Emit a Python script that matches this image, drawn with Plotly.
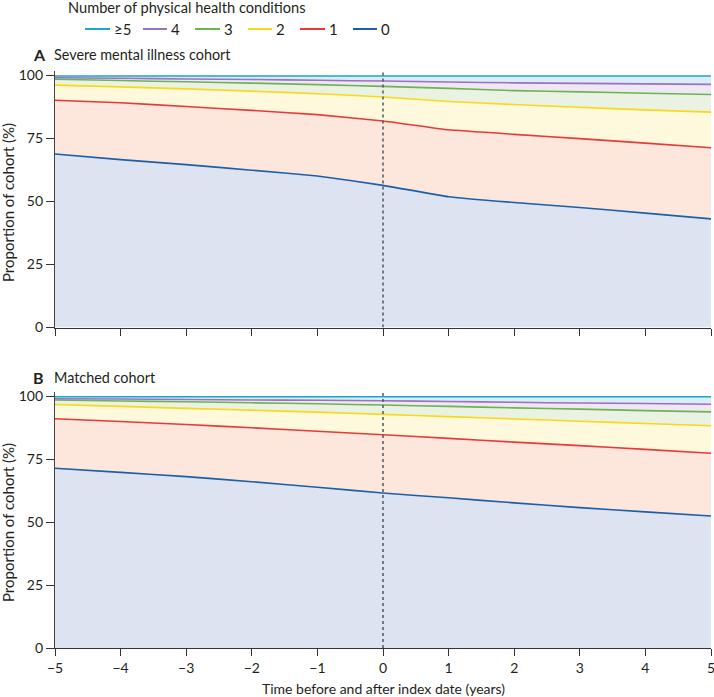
import plotly.graph_objects as go

years = [-5, -4, -3, -2, -1, 0, 1, 2, 3, 4, 5]
x_ticks = [-5, -4, -3, -2, -1, 0, 1, 2, 3, 4, 5]
x_ticklabels = ["\u22125", "\u22124", "\u22123", "\u22122", "\u22121", "0", "1", "2", "3", "4", "5"]
y_ticks = [0, 25, 50, 75, 100]

categories = ["0", "1", "2", "3", "4", "\u22655"]

# Cumulative proportion (%) of cohort with at most k conditions -- severe mental illness cohort
smi_le0 = [68.7, 66.5, 64.5, 62.3, 60.0, 56.3, 51.8, 49.5, 47.5, 45.3, 43.0]
smi_le1 = [90.0, 89.0, 87.5, 86.0, 84.3, 81.8, 78.3, 76.5, 74.8, 73.0, 71.2]
smi_le2 = [96.0, 95.3, 94.5, 93.6, 92.6, 91.3, 89.5, 88.3, 87.2, 86.2, 85.3]
smi_le3 = [98.3, 97.8, 97.3, 96.8, 96.2, 95.5, 94.7, 93.8, 93.3, 92.8, 92.3]
smi_le4 = [98.9, 98.7, 98.4, 98.2, 97.9, 97.6, 97.2, 96.9, 96.7, 96.5, 96.3]
smi_le5 = [99.6, 99.6, 99.6, 99.6, 99.6, 99.6, 99.6, 99.6, 99.6, 99.6, 99.6]

# Matched cohort
mat_le0 = [71.3, 69.7, 68.0, 66.0, 63.8, 61.5, 59.6, 57.6, 55.7, 54.0, 52.4]
mat_le1 = [91.0, 89.9, 88.7, 87.4, 86.0, 84.6, 83.2, 81.7, 80.3, 78.8, 77.3]
mat_le2 = [96.6, 95.9, 95.1, 94.4, 93.6, 92.7, 91.8, 90.9, 90.0, 89.1, 88.2]
mat_le3 = [98.4, 98.0, 97.7, 97.3, 96.9, 96.4, 95.9, 95.3, 94.8, 94.2, 93.7]
mat_le4 = [98.9, 98.8, 98.6, 98.4, 98.3, 98.1, 97.8, 97.5, 97.2, 97.0, 96.7]
mat_le5 = [99.7, 99.7, 99.7, 99.7, 99.7, 99.7, 99.7, 99.7, 99.7, 99.7, 99.7]

line_colors = ["#1c5ea8", "#e8393a", "#f7d917", "#6db34f", "#9a72bf", "#1ba6cf"]
fill_colors = ["#dde3f0", "#fde7dd", "#fef8dc", "#eaf3e3", "#efe8f4", "#dbedf6"]

FONT = "Lato, Open Sans, sans-serif"
TXT = "#231f20"

W, H = 714, 697
L, R = 55, 3
PW = W - L - R

def px_x(p):
    return (p - L) / PW

def px_y(p):
    return 1 - p / H

fig = go.Figure()

panels = [
    ("x", "y", [smi_le0, smi_le1, smi_le2, smi_le3, smi_le4, smi_le5]),
    ("x2", "y2", [mat_le0, mat_le1, mat_le2, mat_le3, mat_le4, mat_le5]),
]
for xa, ya, series in panels:
    for i, vals in enumerate(series):
        fig.add_trace(go.Scatter(
            x=years, y=vals, mode="lines",
            name=categories[i],
            line=dict(color=line_colors[i], width=1.6, shape="spline", smoothing=0.3),
            fill="tozeroy" if i == 0 else "tonexty",
            fillcolor=fill_colors[i],
            xaxis=xa, yaxis=ya,
            showlegend=False,
            hoverinfo="skip",
        ))

yr = [0, 101.5]
top_dom = [1 - 327.5 / H, 1 - (327.5 - 2.525 * 101.5) / H]
bot_dom = [1 - 648 / H, 1 - (648 - 2.52 * 101.5) / H]

xcommon = dict(range=[-5, 5], tickvals=x_ticks, ticktext=x_ticklabels,
               showgrid=False, zeroline=False, ticks="outside", ticklen=7,
               tickwidth=1, tickcolor="#333", showline=True, linecolor="#333",
               linewidth=1, automargin=False, ticklabeloverflow="allow",
               tickfont=dict(size=14, color=TXT))
ycommon = dict(range=yr, tickvals=y_ticks, ticks="outside", ticklen=8, tickwidth=1,
               tickcolor="#333", showline=True, linecolor="#444", linewidth=1.2,
               showgrid=False, zeroline=False, automargin=False,
               tickfont=dict(size=14, color=TXT))

fig.update_layout(
    width=W, height=H,
    margin=dict(l=L, r=R, t=0, b=0),
    paper_bgcolor="white", plot_bgcolor="white",
    font=dict(family=FONT, size=14, color=TXT),
    showlegend=False,
    xaxis=dict(domain=[0, 1], anchor="y", showticklabels=False, **xcommon),
    xaxis2=dict(domain=[0, 1], anchor="y2", showticklabels=True, **xcommon),
    yaxis=dict(domain=top_dom, **ycommon),
    yaxis2=dict(domain=bot_dom, **ycommon),
)

for xa, ya in [("x", "y"), ("x2", "y2")]:
    fig.add_shape(type="line", xref=xa, yref=ya, x0=0, x1=0, y0=0, y1=101.5,
                  line=dict(color="#4b5861", width=1.5, dash="3px,3px"), layer="above")

# legend drawn by hand (order >=5 ... 0)
leg_pos = [(85, 110), (143, 167), (195, 220), (248, 272), (300, 325), (353, 377)]
leg_y = 29
for (x0, x1), ci in zip(leg_pos, [5, 4, 3, 2, 1, 0]):
    fig.add_shape(type="line", xref="paper", yref="paper",
                  x0=px_x(x0), x1=px_x(x1), y0=px_y(leg_y), y1=px_y(leg_y),
                  line=dict(color=line_colors[ci], width=2))
    fig.add_annotation(xref="paper", yref="paper", x=px_x(x1 + 2), y=px_y(leg_y),
                       text=categories[ci], showarrow=False, xanchor="left",
                       yanchor="middle", font=dict(size=15, color=TXT))

annos = [
    dict(text="Number of physical health conditions", x=px_x(66), y=px_y(8),
         font=dict(size=14.6, color=TXT)),
    dict(text="<b>A</b>", x=px_x(31), y=px_y(55), font=dict(size=16, color=TXT)),
    dict(text="Severe mental illness cohort", x=px_x(52), y=px_y(55),
         font=dict(size=14.4, color=TXT)),
    dict(text="<b>B</b>", x=px_x(31), y=px_y(377), font=dict(size=16, color=TXT)),
    dict(text="Matched cohort", x=px_x(52), y=px_y(377),
         font=dict(size=14.4, color=TXT)),
]
for a in annos:
    fig.add_annotation(xref="paper", yref="paper", xanchor="left", yanchor="middle",
                       showarrow=False, **a)

for yc in [203, 523]:
    fig.add_annotation(xref="paper", yref="paper", x=px_x(8), y=px_y(yc),
                       text="Proportion of cohort (%)", textangle=-90, showarrow=False,
                       xanchor="center", yanchor="middle", font=dict(size=15, color=TXT))

fig.add_annotation(xref="paper", yref="paper", x=px_x(383), y=px_y(688),
                   text="Time before and after index date (years)", showarrow=False,
                   xanchor="center", yanchor="middle", font=dict(size=14, color=TXT))

fig.write_html("out.html", config={"displayModeBar": False},
               post_script="document.body.style.margin='0';document.body.style.overflow='hidden';")
